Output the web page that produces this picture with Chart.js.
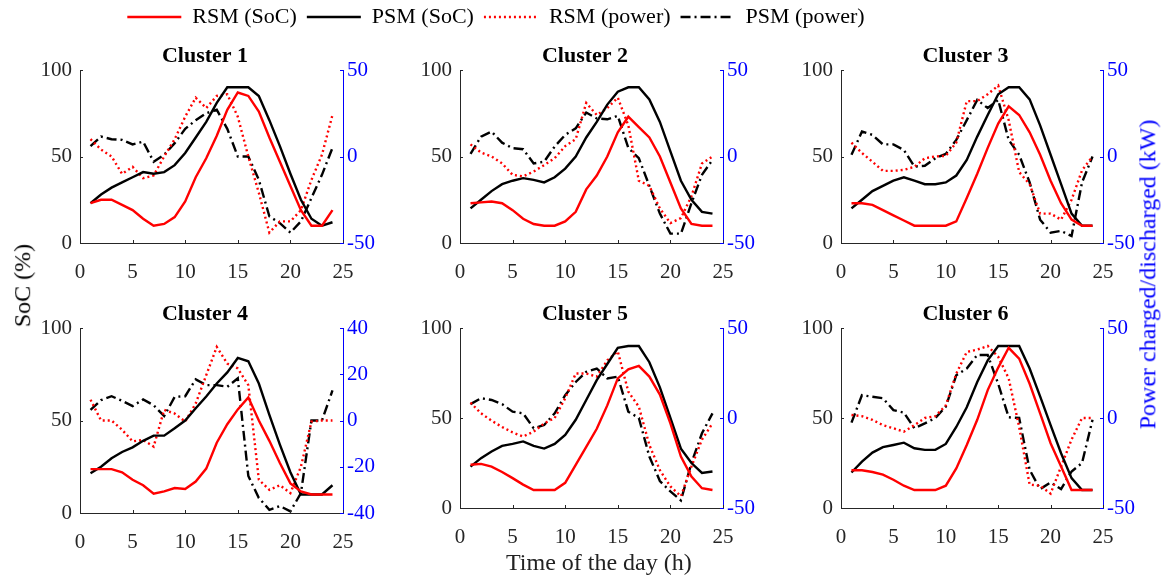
<!DOCTYPE html>
<html lang="en">
<head>
<meta charset="UTF-8">
<title>SoC and power per cluster</title>
<script src="https://cdn.jsdelivr.net/npm/chart.js"></script>
<style>
  body { margin: 0; width: 1163px; height: 578px; background: #fff; position: relative; overflow: hidden; font-family: "Liberation Serif", "Times New Roman", serif; }
  canvas { position: absolute; }
  .lbl { position: absolute; font-size: 24px; white-space: nowrap; transform-origin: center; }
</style>
</head>
<body>

<canvas id="legend" width="992" height="90" style="left:0; top:-4px;"></canvas>
<canvas id="c1"></canvas>
<canvas id="c2"></canvas>
<canvas id="c3"></canvas>
<canvas id="c4"></canvas>
<canvas id="c5"></canvas>
<canvas id="c6"></canvas>

<div class="lbl" id="ylab" style="color:#000;">SoC (%)</div>
<div class="lbl" id="y2lab" style="color:#0000ff;">Power charged/discharged (kW)</div>
<div class="lbl" id="xlab" style="color:#222;">Time of the day (h)</div>

<script>
// hours of the day
const hours = [1,2,3,4,5,6,7,8,9,10,11,12,13,14,15,16,17,18,19,20,21,22,23,24];
const clusterNames = ['Cluster 1', 'Cluster 2', 'Cluster 3', 'Cluster 4', 'Cluster 5', 'Cluster 6'];

// SoC (%) - one row per cluster
const rsmSoc = [
  [23,25,25,22,19,14,10,11,15,24,38,49,62,77,87,85,76,61,47,33,19,10,10,19],
  [23,23.5,24,23,19,14,11,10,10,12.5,18,31,39,50,64,73,67,61,50,35,20,11,10,10],
  [23,23,22,19,16,13,10,10,10,10,12.5,26,40,55,69,79,74,64,51,36,23,13.5,10,10],
  [23.7,23.7,23.7,22,18,15,10.4,11.7,13.5,13,17,24,38,48,56,62.5,50,39,27,16,11.7,10,10,10],
  [24,24.5,23,20,16.6,13,10,10,10,14,24,34,44,57,72,77,79,73,63,47,28.6,17.5,11,10],
  [21,21,20,18.5,15.7,12.4,10,10,10,12.4,22,35,49,65.5,78,89,83,69,52.6,36,23,10,10,10]
];
const psmSoc = [
  [23,28,32,35,38,41,40,41,45,52,61,70,81,90,90,90,85,71,56,40,25,14,10,12],
  [20,25,30,34,36,37.5,36.5,35,38,43,50,61,70,80,87.5,90,90,83,70,53,36,25,18,17],
  [20,25,30,33,36,38,36,34,34,35,39,48,61.5,74,86,90,90,83,68,51,34,17,10,10],
  [21.5,25,29.6,33,35.5,39,41.8,41.8,45.8,50,56.6,63,70,76,83.8,82,70,53,37,22,10,10,10,15],
  [23,27.7,31.4,34.5,35.6,37,34.5,33,35.6,40.6,49,60,71,80,89,90,90,81,67,50,33,25,19.5,20.3],
  [19.7,25.8,30.8,33.8,35,36.3,33.2,32.3,32.3,35.6,45,56,70,82,90,90,90,77.5,62,46,30.4,16.6,10,10]
];

// power charged/discharged (kW) - one row per cluster
const rsmPow = [
  [10,4,0,-10,-6,-12.5,-11,0,10,23,34,28,35,36,23,0,-21,-44,-37.5,-37.5,-31,-13.5,1,24],
  [7,2.3,0,-4,-10.6,-11.5,-8.7,-5,-1,6,10,31,24,28,34,18,-14,-17,-30,-38.5,-35.6,-23,-4,0],
  [8,2,-3,-8.3,-8.3,-7.7,-6,-1,0,0.4,8,32,32,36,41,21,-9,-16,-33,-33,-36.5,-25,-8,0],
  [9,0,0,-4,-9,-8.4,-11.3,4.6,3,-0.5,7.4,19.6,31.8,24.6,22.5,15.3,-25.6,-30,-28,-31.4,-20,-0.5,0,0],
  [8.5,2.6,-1.5,-5,-8,-10.3,-7.6,-3,0,11,24.7,24.7,23,32,37,14.6,6.3,-15,-29,-38,-43.5,-27,-12,-3],
  [1.7,1,-1,-4,-5.7,-7.6,-4,0,1,7,24.7,36.7,38,40,34,22,-5,-37,-37.6,-42,-27,-12,0,0]
];
const psmPow = [
  [6,11.5,10,9.6,7,8.6,-3,1,7.7,16,21,25,27,16,0,0,-13.5,-34.6,-38.5,-44,-37.5,-24,-10.6,5],
  [1.5,11.5,14.4,8,4.8,4.2,-4,-3,5.8,12.5,16.3,25.4,22,21.5,23.5,5,-1,-17,-33,-44.6,-44.6,-27,-10.6,-2],
  [1,14.4,12.5,7,7,3.8,-5.8,-5.4,-1,1.5,9.6,21,32.7,28,32.7,9.6,1,-15,-36.5,-44,-43,-46,-15,0],
  [4.6,8.8,10.5,8.5,6.2,9.1,6.6,1.9,10.2,10.5,17.8,15.3,15.3,14.6,18.2,-24,-33.5,-38.6,-37,-39.3,-31.4,0,0,13],
  [7.7,11,10,7.7,3.5,2.6,-5.7,-3.9,2.6,12.7,20,25.6,27.5,22,23,3.5,0,-21.4,-35,-40.8,-45.8,-25,-8.5,2.6],
  [-2.6,12.7,11.8,11,4.4,3,-5.7,-3,0,6.3,23.8,27.5,35,35,19,0.4,0,-28.8,-39.5,-35.8,-39.5,-29.7,-25,-1]
];

// right-axis range per cluster
const powMin = [-50, -50, -50, -40, -50, -50];
const powMax = [50, 50, 50, 40, 50, 50];
const powStep = [50, 50, 50, 20, 50, 50];

// plot-area boxes (left, right, top, bottom) in page pixels
const boxes = [
  [80, 343, 70, 243], [460, 723, 70, 243], [841, 1103, 70, 243],
  [80, 343, 328, 513], [460, 723, 328, 508], [841, 1103, 328, 508]
];

const FONT = 'Liberation Serif';
const AXIS = '#262626';
const BLUE = '#0000ff';
const LEFT_W = 55, RIGHT_W = 42, TITLE_H = 32, XAXIS_H = 45;
const LINE_W = 2.4;

Chart.defaults.font.family = FONT;
const tickFont = { family: FONT, size: 21 };

const seriesStyle = [
  { label: 'RSM (SoC)', color: '#ff0000', dash: [], axis: 'y' },
  { label: 'PSM (SoC)', color: '#000000', dash: [], axis: 'y' },
  { label: 'RSM (power)', color: '#ff0000', dash: [2, 3], axis: 'y1' },
  { label: 'PSM (power)', color: '#000000', dash: [10, 4, 2, 4], axis: 'y1' }
];

// small inward tick marks like the original
const innerTicks = {
  id: 'innerTicks',
  afterDraw(chart) {
    const { ctx, chartArea: a, scales } = chart;
    const L = 3;
    ctx.save();
    ctx.lineWidth = 1;
    ctx.strokeStyle = AXIS;
    ctx.beginPath();
    scales.x.ticks.forEach(t => {
      const p = Math.round(scales.x.getPixelForValue(t.value)) + 0.5;
      ctx.moveTo(p, a.bottom); ctx.lineTo(p, a.bottom - L);
    });
    scales.y.ticks.forEach(t => {
      const p = Math.round(scales.y.getPixelForValue(t.value)) + 0.5;
      ctx.moveTo(a.left, p); ctx.lineTo(a.left + L, p);
    });
    ctx.stroke();
    ctx.strokeStyle = BLUE;
    ctx.beginPath();
    scales.y1.ticks.forEach(t => {
      const p = Math.round(scales.y1.getPixelForValue(t.value)) + 0.5;
      ctx.moveTo(a.right, p); ctx.lineTo(a.right - L, p);
    });
    ctx.stroke();
    ctx.restore();
  }
};

function pts(arr) {
  return hours.map((h, i) => ({ x: h, y: arr[i] }));
}

for (let k = 0; k < 6; k++) {
  const [l, r, t, b] = boxes[k];
  const cv = document.getElementById('c' + (k + 1));
  cv.width = (r - l) + LEFT_W + RIGHT_W;
  cv.height = (b - t) + TITLE_H + XAXIS_H;
  cv.style.left = (l - LEFT_W) + 'px';
  cv.style.top = (t - TITLE_H) + 'px';

  const values = [rsmSoc[k], psmSoc[k], rsmPow[k], psmPow[k]];
  const datasets = seriesStyle.map((s, i) => ({
    label: s.label,
    data: pts(values[i]),
    borderColor: s.color,
    borderDash: s.dash,
    borderWidth: LINE_W,
    pointRadius: 0,
    tension: 0,
    fill: false,
    yAxisID: s.axis
  }));

  new Chart(cv, {
    type: 'line',
    data: { datasets },
    plugins: [innerTicks],
    options: {
      responsive: false,
      animation: false,
      devicePixelRatio: 1,
      layout: { padding: 0 },
      plugins: {
        legend: { display: false },
        tooltip: { enabled: false },
        title: {
          display: true,
          text: clusterNames[k],
          color: '#000',
          font: { family: FONT, size: 22, weight: 'bold', lineHeight: 1.2 },
          padding: { top: 5.6, bottom: 0 }
        }
      },
      scales: {
        x: {
          type: 'linear', min: 0, max: 25,
          grid: { display: false, drawTicks: false },
          border: { color: AXIS, width: 1 },
          ticks: { stepSize: 5, color: AXIS, padding: 17, font: tickFont, maxRotation: 0 },
          afterFit(s) { s.height = XAXIS_H; }
        },
        y: {
          position: 'left', min: 0, max: 100,
          grid: { display: false, drawTicks: false },
          border: { color: AXIS, width: 1 },
          ticks: { stepSize: 50, color: AXIS, padding: 8, font: tickFont },
          afterFit(s) { s.width = LEFT_W; }
        },
        y1: {
          position: 'right', min: powMin[k], max: powMax[k],
          grid: { display: false, drawTicks: false },
          border: { color: BLUE, width: 1 },
          ticks: { stepSize: powStep[k], color: BLUE, padding: 4, font: tickFont },
          afterFit(s) { s.width = RIGHT_W; }
        }
      }
    }
  });
}

// shared legend on its own chart
new Chart(document.getElementById('legend'), {
  type: 'line',
  data: {
    datasets: seriesStyle.map(s => ({
      label: s.label, data: [], borderColor: s.color, backgroundColor: s.color,
      borderDash: s.dash, borderWidth: LINE_W
    }))
  },
  options: {
    responsive: false,
    animation: false,
    devicePixelRatio: 1,
    layout: { padding: 0 },
    scales: { x: { display: false }, y: { display: false } },
    plugins: {
      tooltip: { enabled: false },
      legend: {
        position: 'top',
        maxHeight: 60,
        labels: {
          usePointStyle: true, pointStyle: 'line', pointStyleWidth: 54,
          color: '#000', padding: 10,
          font: { family: FONT, size: 22 },
          generateLabels(chart) {
            return chart.data.datasets.map((ds, i) => ({
              text: ds.label,
              datasetIndex: i,
              fillStyle: ds.borderColor,
              strokeStyle: ds.borderColor,
              fontColor: '#000',
              lineWidth: ds.borderWidth,
              lineDash: ds.borderDash,
              lineCap: 'butt',
              pointStyle: 'line',
              hidden: false
            }));
          }
        }
      }
    }
  }
});

// shared axis labels
function place(id, cx, cy, rot) {
  const el = document.getElementById(id);
  const w = el.offsetWidth, h = el.offsetHeight;
  el.style.left = (cx - w / 2) + 'px';
  el.style.top = (cy - h / 2) + 'px';
  if (rot) el.style.transform = 'rotate(' + rot + 'deg)';
}
place('ylab', 22, 285, -90);
place('y2lab', 1148, 274, -90);
place('xlab', 599, 562, 0);
</script>

</body>
</html>
